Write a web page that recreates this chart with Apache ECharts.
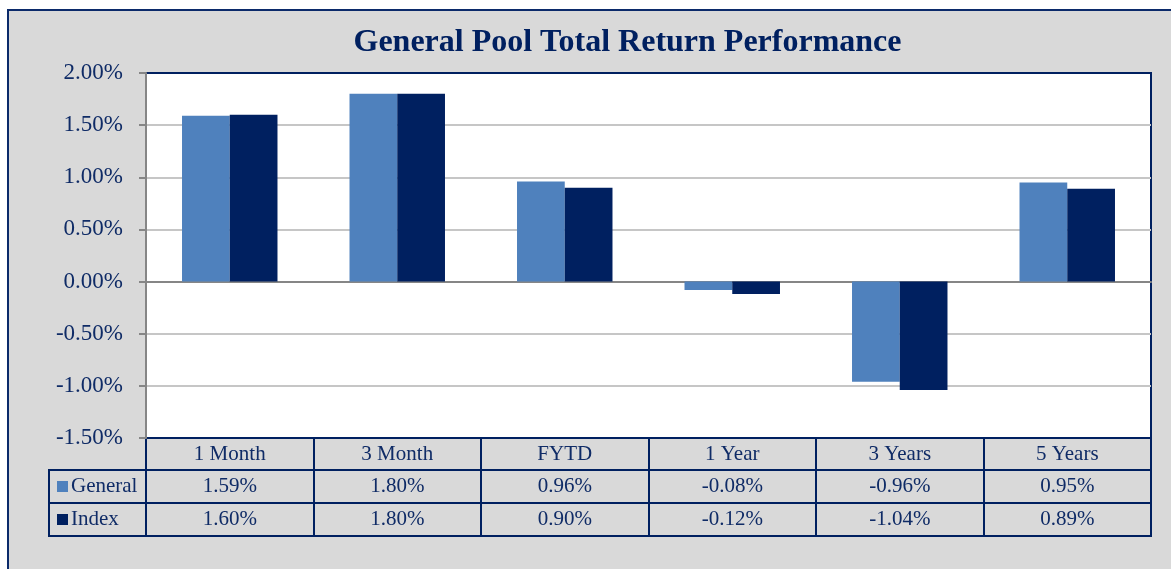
<!DOCTYPE html>
<html lang="en">
<head>
    <meta charset="UTF-8">
    <title>General Pool Total Return Performance</title>
    <script src="https://cdn.jsdelivr.net/npm/echarts@6/dist/echarts.min.js"></script>
    <style>
        html, body {
            margin: 0;
            padding: 0;
            background: #ffffff;
            overflow: hidden;
            width: 1171px;
            height: 569px;
        }
        #chart {
            position: absolute;
            left: 7px;
            top: 9px;
            width: 1237px;
            height: 600px;
            background: #d9d9d9;
            border: 2px solid #0b2a6a;
        }
    </style>
</head>
<body>
    <div id="chart"></div>

    <script>
        // data
        const categories = ['1 Month', '3 Month', 'FYTD', '1 Year', '3 Years', '5 Years'];
        const generalValues = [1.59, 1.80, 0.96, -0.08, -0.96, 0.95];
        const indexValues = [1.60, 1.80, 0.90, -0.12, -1.04, 0.89];
        const seriesNames = ['General', 'Index'];

        const NAVY = '#002060';
        const LIGHT = '#4f81bd';
        const TEXT = '#0f2b66';
        const FONT = "'Liberation Serif', 'Times New Roman', serif";
        const pct = v => v.toFixed(2) + '%';

        const chart = echarts.init(document.getElementById('chart'));

        // one table row = one grid with a category axis whose labels sit inside
        function tableAxis(gridIndex, labels, height) {
            return {
                type: 'category',
                gridIndex: gridIndex,
                data: labels,
                boundaryGap: true,
                axisLine: { show: false },
                axisTick: { show: false, interval: 0 },
                splitLine: { show: true, interval: 0, lineStyle: { color: NAVY, width: 2 } },
                axisLabel: {
                    inside: true,
                    interval: 0,
                    margin: height / 2,
                    verticalAlign: 'middle',
                    color: TEXT,
                    fontFamily: FONT,
                    fontSize: 21
                }
            };
        }
        function hiddenValueAxis(gridIndex) {
            return { type: 'value', gridIndex: gridIndex, show: false };
        }
        const gridBox = { show: true, borderColor: NAVY, borderWidth: 2, backgroundColor: 'transparent' };

        const option = {
            animation: false,
            title: {
                text: 'General Pool Total Return Performance',
                left: 'center',
                top: 11,
                textStyle: { color: NAVY, fontFamily: FONT, fontWeight: 'bold', fontSize: 32 }
            },
            grid: [
                Object.assign({ left: 137, top: 62, width: 1005, height: 365, backgroundColor: '#ffffff' },
                    { show: true, borderColor: NAVY, borderWidth: 2 }),
                Object.assign({ left: 137, top: 427, width: 1005, height: 32 }, gridBox),
                Object.assign({ left: 137, top: 459, width: 1005, height: 33 }, gridBox),
                Object.assign({ left: 137, top: 492, width: 1005, height: 33 }, gridBox),
                Object.assign({ left: 40, top: 459, width: 97, height: 66 }, gridBox)
            ],
            xAxis: [
                {
                    type: 'category',
                    gridIndex: 0,
                    data: categories,
                    axisLine: { onZero: true, lineStyle: { color: '#868686', width: 2 } },
                    axisTick: { show: false },
                    axisLabel: { show: false }
                },
                tableAxis(1, categories, 32),
                tableAxis(2, generalValues.map(pct), 33),
                tableAxis(3, indexValues.map(pct), 33),
                hiddenValueAxis(4)
            ],
            yAxis: [
                {
                    type: 'value',
                    gridIndex: 0,
                    min: -1.5,
                    max: 2,
                    interval: 0.5,
                    axisLine: { show: true, lineStyle: { color: '#868686', width: 2 } },
                    axisTick: { show: true, length: 7, lineStyle: { color: '#868686', width: 2 } },
                    splitLine: {
                        showMinLine: false,
                        showMaxLine: false,
                        lineStyle: { color: '#c6c6c6', width: 2 }
                    },
                    axisLabel: {
                        margin: 23,
                        padding: [4, 0, 0, 0],
                        color: TEXT,
                        fontFamily: FONT,
                        fontSize: 23,
                        formatter: pct
                    }
                },
                hiddenValueAxis(1),
                hiddenValueAxis(2),
                hiddenValueAxis(3),
                {
                    type: 'category',
                    gridIndex: 4,
                    inverse: true,
                    data: seriesNames,
                    boundaryGap: true,
                    axisLine: { show: false },
                    axisTick: { show: false },
                    splitLine: { show: true, lineStyle: { color: NAVY, width: 2 } },
                    axisLabel: {
                        inside: true,
                        margin: 8,
                        formatter: v => (v === 'General' ? '{g| }' : '{i| }') + '{t|' + v + '}',
                        rich: {
                            g: { width: 11, height: 11, backgroundColor: LIGHT },
                            i: { width: 11, height: 11, backgroundColor: NAVY },
                            t: { color: TEXT, fontFamily: FONT, fontSize: 21, padding: [0, 0, 0, 3] }
                        }
                    }
                }
            ],
            series: [
                {
                    name: seriesNames[0],
                    type: 'bar',
                    xAxisIndex: 0,
                    yAxisIndex: 0,
                    data: generalValues,
                    barGap: '0%',
                    barCategoryGap: '43%',
                    itemStyle: { color: LIGHT }
                },
                {
                    name: seriesNames[1],
                    type: 'bar',
                    xAxisIndex: 0,
                    yAxisIndex: 0,
                    data: indexValues,
                    barGap: '0%',
                    barCategoryGap: '43%',
                    itemStyle: { color: NAVY }
                }
            ]
        };

        chart.setOption(option);
    </script>
</body>
</html>
